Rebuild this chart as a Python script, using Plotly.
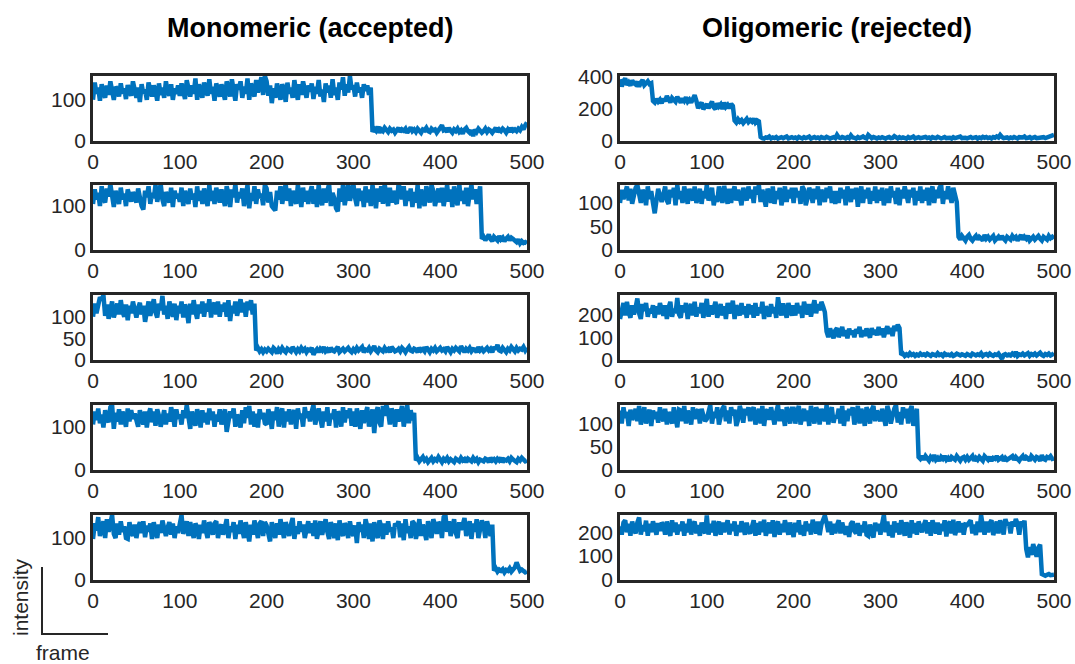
import plotly.graph_objects as go

# ---------------- data (frame step 2, frames 0..500) ----------------
frames = list(range(0, 501, 2))

mono_1 = [100,142,115,130,98,138,120,105,135,112,145,118,100,132,125,108,140,115,128,102,136,120,110,145,118,
          105,130,95,138,115,125,100,142,118,108,135,122,98,140,112,130,105,145,120,110,138,100,128,115,135,
          110,140,118,102,148,125,108,135,115,152,100,138,120,105,142,128,110,150,115,132,98,140,122,108,138,
          118,100,145,122,108,150,115,98,138,125,145,105,132,115,152,100,140,120,108,148,118,135,155,112,158,
          145,110,135,92,128,105,140,118,100,138,125,95,142,115,130,105,148,120,100,138,112,145,118,105,135,
          120,140,102,132,115,148,108,125,95,140,118,135,105,150,112,130,100,142,125,155,110,138,118,158,125,
          135,108,142,118,130,105,138,122,135,112,130,22,30,25,35,20,28,24,32,26,22,30,25,28,20,
          26,32,22,28,25,30,20,27,33,24,28,22,30,25,20,28,26,32,24,22,30,26,28,20,25,
          30,38,26,28,22,32,25,20,28,24,30,22,26,18,28,32,24,20,26,12,28,22,30,25,20,
          24,30,22,28,25,20,26,32,22,28,24,30,26,20,28,22,32,25,28,24,30,26,34,28,38,
          45]
mono_2 = [105,138,115,130,100,145,118,108,140,122,150,112,98,135,120,105,142,115,128,100,138,120,110,132,118,
          108,140,115,100,92,135,120,145,105,130,118,148,110,138,150,115,100,132,122,108,142,98,135,118,128,
          110,142,100,135,118,105,140,115,128,98,145,112,135,105,140,118,100,148,112,135,105,142,120,108,138,
          115,100,145,128,98,138,120,150,108,132,118,140,100,135,148,95,130,112,145,105,138,118,128,102,148,
          140,108,132,100,95,90,135,115,145,105,130,150,112,140,100,135,118,105,148,120,98,142,110,135,105,
          130,145,105,138,98,148,115,102,140,108,135,150,100,130,118,95,88,140,110,148,102,135,150,112,128,
          150,118,100,140,112,135,98,145,108,138,100,148,122,95,140,110,145,105,150,118,100,142,108,135,112,
          105,150,138,115,145,100,135,112,140,98,132,108,148,95,138,115,100,145,120,108,148,135,100,128,140,
          108,142,100,130,148,110,138,98,145,118,102,150,112,135,105,142,100,128,148,115,138,105,130,145,25,
          30,22,28,35,25,20,30,26,22,32,24,28,20,26,30,22,28,25,20,18,24,15,20,16,18,
          15]
mono_3 = [100,130,108,122,145,138,150,102,128,95,120,135,98,118,130,105,138,112,100,128,92,125,108,135,115,
          98,120,132,105,125,88,118,135,102,128,140,110,98,130,115,148,105,125,95,135,112,100,130,92,125,
          108,135,98,128,115,85,130,105,138,112,95,128,108,135,100,130,112,140,98,125,132,105,135,100,128,
          112,132,100,138,90,125,108,135,102,128,140,110,132,100,135,115,138,105,130,22,28,20,25,18,24,
          20,26,22,18,28,24,15,25,20,28,22,18,26,24,20,30,22,18,25,20,28,22,26,18,24,
          22,28,12,20,25,18,26,22,30,20,24,18,28,22,20,25,30,18,22,26,20,24,28,22,18,
          25,20,28,22,26,30,18,24,22,28,20,25,32,22,18,26,24,20,28,22,25,18,30,24,20,
          22,26,20,28,24,18,25,30,22,20,26,24,18,28,22,25,20,30,24,18,26,22,28,20,24,
          28,22,25,20,30,24,18,26,22,28,25,20,32,24,18,26,22,28,20,25,24,18,30,22,26,
          20,24,28,22,26,18,30,24,35,22,20,28,24,18,26,22,30,25,20,28,22,26,24,30,22,
          28]
mono_4 = [105,135,115,142,108,128,98,138,120,110,145,150,95,132,112,140,105,135,118,100,142,112,138,118,130,
          112,100,138,122,105,135,98,128,142,110,135,102,140,125,100,118,138,105,130,112,145,128,100,140,118,
          128,105,138,120,150,112,95,135,118,102,140,125,98,138,110,132,105,142,115,135,100,128,112,140,105,
          130,140,88,112,135,120,142,100,128,115,98,138,108,145,120,148,105,135,100,130,98,140,118,132,108,
          105,140,125,95,135,115,145,100,130,142,98,135,112,140,105,130,138,95,142,118,130,100,145,120,135,
          112,135,150,105,130,142,118,98,135,112,145,102,130,118,140,98,135,128,100,145,110,138,120,142,102,
          135,100,142,118,95,138,108,130,145,100,118,140,85,132,145,110,100,148,125,150,135,105,142,128,100,
          140,112,135,148,100,130,150,108,138,115,132,22,28,20,25,30,22,26,18,24,28,20,25,22,30,
          24,18,26,22,28,20,25,22,18,26,24,20,28,22,25,18,26,24,20,28,22,26,18,24,22,
          20,26,24,18,28,22,25,20,26,22,28,18,24,22,26,20,28,24,22,18,26,22,28,24,20,
          22]
mono_5 = [98,135,118,150,105,125,140,100,145,115,130,155,110,100,135,108,140,115,128,100,98,138,115,105,132,
          100,125,138,112,140,102,130,115,135,98,138,118,100,132,112,142,118,105,125,138,108,135,100,128,112,
          135,155,110,128,140,105,138,118,100,135,125,98,132,112,142,118,100,138,128,108,135,140,100,125,132,
          108,132,145,100,128,115,138,98,132,110,142,120,100,138,115,92,132,108,142,125,100,135,140,105,138,
          130,105,92,138,115,100,135,108,145,125,100,138,115,105,132,148,98,128,110,140,115,132,100,125,140,
          112,135,105,142,98,128,140,108,132,145,115,98,138,125,100,135,95,142,118,105,135,128,100,140,115,
          105,130,88,138,115,132,100,145,128,98,135,92,138,115,100,142,128,98,135,108,140,115,125,100,135,
          128,140,102,135,95,145,112,128,100,140,135,98,118,145,105,132,115,95,140,125,100,145,132,110,138,
          132,100,150,155,115,140,105,128,145,112,100,138,120,132,148,105,125,140,98,135,115,145,100,128,142,
          130,100,140,118,105,132,22,28,20,25,22,26,18,24,22,28,20,25,30,42,28,22,25,20,18,
          20]

oligo_1 = [385,340,372,390,350,365,345,378,360,352,370,338,365,380,348,362,372,355,360,250,240,262,245,258,235,
           262,248,280,255,240,268,252,245,275,258,240,265,250,272,245,258,240,262,285,250,205,225,240,198,215,
           230,205,222,245,210,198,235,215,228,200,240,212,225,205,232,218,128,115,135,120,130,112,125,138,118,
           130,120,140,115,128,122,25,18,15,22,20,28,16,22,18,25,15,20,24,18,22,28,16,20,24,
           18,22,15,25,20,16,24,18,22,28,15,20,25,18,22,16,24,20,18,26,22,15,20,24,18,
           38,22,18,25,20,16,24,18,35,22,20,15,25,18,22,28,20,16,38,22,18,25,20,16,22,
           18,24,20,15,22,25,18,20,30,22,16,24,18,22,20,15,25,18,22,28,16,20,24,18,22,
           20,25,18,22,15,24,20,18,26,22,16,20,25,18,22,20,15,24,18,22,20,28,18,22,20,
           16,22,25,18,20,24,15,22,18,26,20,25,18,22,16,24,20,28,22,38,25,18,20,22,16,
           22,18,25,20,16,24,20,22,28,18,20,24,16,22,25,18,20,22,28,24,18,22,20,26,30,
           38]
oligo_2 = [100,128,108,122,135,105,130,98,118,132,138,110,100,128,118,95,135,108,125,100,78,105,130,115,102,
           118,135,105,98,128,112,132,95,138,108,125,100,135,115,98,130,118,105,135,100,112,130,98,125,110,
           138,105,125,132,95,115,102,135,118,100,136,110,98,130,100,122,135,105,128,112,95,132,118,105,135,
           110,128,100,135,118,138,102,128,112,92,130,120,100,135,98,125,108,132,95,118,135,102,128,110,132,
           100,132,112,125,98,135,128,95,110,132,122,100,130,108,135,95,128,118,102,132,110,135,100,125,98,
           125,100,132,110,128,95,135,118,102,130,108,132,92,118,135,100,128,110,132,98,125,105,135,100,128,
           105,132,95,118,130,100,135,112,125,98,132,95,128,110,135,118,100,128,112,132,95,125,105,135,100,
           128,105,132,95,120,135,100,128,110,132,138,98,125,108,135,120,100,132,118,102,28,22,30,25,20,
           28,32,24,20,26,30,22,28,25,20,32,24,28,22,26,30,20,25,28,22,30,24,20,28,26,
           22,30,25,28,20,26,32,22,28,24,30,20,26,28,22,25,30,24,20,28,26,22,30,25,28,
           24]
oligo_3 = [180,225,250,195,255,210,185,240,200,230,270,205,180,245,215,250,190,225,205,240,185,235,200,250,215,
           195,240,180,230,255,190,225,205,272,200,185,240,210,250,180,225,245,195,255,190,230,205,250,185,235,
           268,190,240,200,230,255,185,220,245,195,235,180,250,205,225,260,180,240,210,195,250,200,235,185,245,
           200,240,185,250,195,230,205,255,180,235,220,190,245,205,232,185,275,225,195,248,210,185,250,220,195,
           240,195,250,205,238,185,255,215,200,245,190,230,262,205,245,218,255,235,210,125,100,138,112,95,130,
           140,100,125,145,105,130,95,138,112,128,100,135,118,145,100,130,105,138,120,98,140,112,132,108,145,
           110,138,100,130,148,115,140,105,150,128,155,140,22,28,18,25,20,30,22,26,18,24,20,28,22,
           25,20,28,22,18,26,24,20,30,22,25,18,28,22,24,20,26,18,22,28,24,20,25,22,18,
           26,22,18,28,24,20,25,22,30,18,24,26,20,28,22,18,25,22,28,20,5,22,26,20,24,
           20,28,22,35,18,25,22,28,20,24,30,18,26,22,28,20,24,32,22,18,26,22,28,20,24,
           30]
oligo_4 = [128,100,135,112,125,95,130,108,118,132,105,138,98,122,135,100,118,130,95,128,110,125,102,135,115,
           105,132,98,125,112,100,135,118,92,130,128,105,138,100,128,115,98,135,110,125,130,100,132,118,105,
           110,130,140,100,125,112,135,98,120,132,138,105,128,100,135,118,130,95,108,138,125,102,132,118,135,
           105,128,135,98,118,132,100,138,95,125,130,108,135,118,98,125,140,105,130,118,95,135,125,100,132,
           132,100,125,138,98,118,132,105,128,95,138,118,100,135,125,98,132,118,105,140,98,125,135,102,118,
           112,132,100,138,95,128,105,132,118,135,98,125,138,100,132,118,95,135,125,100,130,138,105,128,112,
           105,132,118,95,138,125,100,118,132,140,102,125,98,135,112,132,100,128,138,95,118,132,28,24,30,
           22,30,25,20,28,24,32,22,26,20,28,24,30,22,26,20,28,25,22,30,24,20,26,28,22,
           28,22,25,30,20,26,22,28,24,20,30,25,22,28,20,26,24,30,22,25,28,20,26,22,24,
           26,30,22,28,24,20,26,30,22,28,25,20,30,24,22,28,26,20,32,24,22,28,26,30,24,
           25]
oligo_5 = [225,190,240,250,200,235,185,245,215,195,240,262,190,230,205,248,185,235,200,245,220,190,238,205,240,
           230,190,245,210,185,250,200,240,190,232,205,245,185,235,200,255,190,228,245,195,230,185,240,215,195,
           270,190,235,200,248,185,225,245,190,240,200,225,250,190,235,205,245,185,230,200,245,220,190,240,205,
           195,230,250,185,238,190,245,200,252,185,225,240,195,250,180,230,245,190,235,200,250,225,190,240,210,
           180,240,200,250,190,230,185,245,205,235,190,252,215,195,245,188,232,258,270,240,200,245,190,235,195,
           230,250,195,240,210,190,225,180,235,245,205,195,238,185,230,200,245,190,185,232,200,178,240,205,235,
           190,235,272,200,245,185,230,178,245,200,238,190,250,225,185,242,205,178,250,195,238,190,245,215,200,
           230,250,195,242,185,250,225,195,240,190,235,205,250,182,230,245,195,252,188,230,245,200,238,190,232,
           230,240,250,195,232,188,245,200,272,225,190,245,200,238,250,188,230,245,195,250,225,190,255,230,240,
           195,245,225,255,235,190,245,225,248,130,95,138,105,150,120,98,135,148,25,20,18,22,25,20,22,
           22]

mono_traces = [mono_1, mono_2, mono_3, mono_4, mono_5]
oligo_traces = [oligo_1, oligo_2, oligo_3, oligo_4, oligo_5]

mono_ymax = [158, 148, 150, 150, 155]
oligo_ymax = [405, 138, 285, 140, 272]
mono_yticks = [[0, 100], [0, 100], [0, 50, 100], [0, 100], [0, 100]]
oligo_yticks = [[0, 200, 400], [0, 50, 100], [0, 100, 200], [0, 50, 100], [0, 100, 200]]
x_ticks = [0, 100, 200, 300, 400, 500]

col_titles = ["Monomeric (accepted)", "Oligomeric (rejected)"]

# ---------------- layout ----------------
W, H = 1075, 664
FONT = "Arial, Liberation Sans, sans-serif"
TXT = "#262626"
LINE = "#0072BD"

panel_tops = [76, 185, 295, 405, 515]
panel_h = 65
col_x = [(93, 527), (620, 1054)]

fig = go.Figure()
layout = {}
bad = []
k = 0
for c, (traces, ymaxs, yticks) in enumerate([(mono_traces, mono_ymax, mono_yticks),
                                               (oligo_traces, oligo_ymax, oligo_yticks)]):
    for r in range(5):
        k += 1
        if len(traces[r]) != len(frames):
            bad.append(f"{c}-{r}:{len(traces[r])}")
        xa = "x" if k == 1 else f"x{k}"
        ya = "y" if k == 1 else f"y{k}"
        fig.add_trace(go.Scatter(x=frames[:len(traces[r])], y=traces[r], mode="lines",
                                 line=dict(color=LINE, width=4.5),
                                 xaxis=xa, yaxis=ya, showlegend=False,
                                 hoverinfo="skip"))
        top = panel_tops[r]
        xd = [col_x[c][0] / W, col_x[c][1] / W]
        yd = [1 - (top + panel_h) / H, 1 - top / H]
        axcommon = dict(showline=True, mirror=True, linecolor=TXT, linewidth=2.5,
                        showgrid=False, zeroline=False, ticks="",
                        tickfont=dict(family=FONT, size=21, color=TXT))
        layout["xaxis" if k == 1 else f"xaxis{k}"] = dict(
            domain=xd, range=[0, 500], tickvals=x_ticks,
            anchor=ya, **axcommon)
        layout["yaxis" if k == 1 else f"yaxis{k}"] = dict(
            domain=yd, range=[0, ymaxs[r]], tickvals=yticks[r],
            anchor=xa, **axcommon)

fig.update_layout(**layout)

annotations = [
    dict(text=f"<b>{col_titles[0]}</b>", x=310 / W, y=1 - 28 / H, xref="paper", yref="paper",
         showarrow=False, xanchor="center", yanchor="middle",
         font=dict(family=FONT, size=27, color="black")),
    dict(text=f"<b>{col_titles[1]}</b>", x=837 / W, y=1 - 28 / H, xref="paper", yref="paper",
         showarrow=False, xanchor="center", yanchor="middle",
         font=dict(family=FONT, size=27, color="black")),
    dict(text="intensity", x=20 / W, y=1 - 597 / H, xref="paper", yref="paper",
         showarrow=False, textangle=-90, xanchor="center", yanchor="middle",
         font=dict(family=FONT, size=21, color=TXT)),
    dict(text="frame", x=63 / W, y=1 - 652 / H, xref="paper", yref="paper",
         showarrow=False, xanchor="center", yanchor="middle",
         font=dict(family=FONT, size=21, color=TXT)),
]
if bad:
    annotations.append(dict(text=" ".join(bad), x=0.5, y=0.5, xref="paper", yref="paper",
                            showarrow=False, font=dict(size=30, color="red")))
shapes = [
    dict(type="line", xref="paper", yref="paper", x0=42 / W, x1=42 / W,
         y0=1 - 567 / H, y1=1 - 634 / H, line=dict(color=TXT, width=2)),
    dict(type="line", xref="paper", yref="paper", x0=41 / W, x1=108 / W,
         y0=1 - 634 / H, y1=1 - 634 / H, line=dict(color=TXT, width=2)),
]

fig.update_layout(width=W, height=H, margin=dict(l=0, r=0, t=0, b=0, autoexpand=False),
                  paper_bgcolor="white", plot_bgcolor="white",
                  annotations=annotations, shapes=shapes,
                  font=dict(family=FONT, color=TXT))

fig.write_html("out.html")
